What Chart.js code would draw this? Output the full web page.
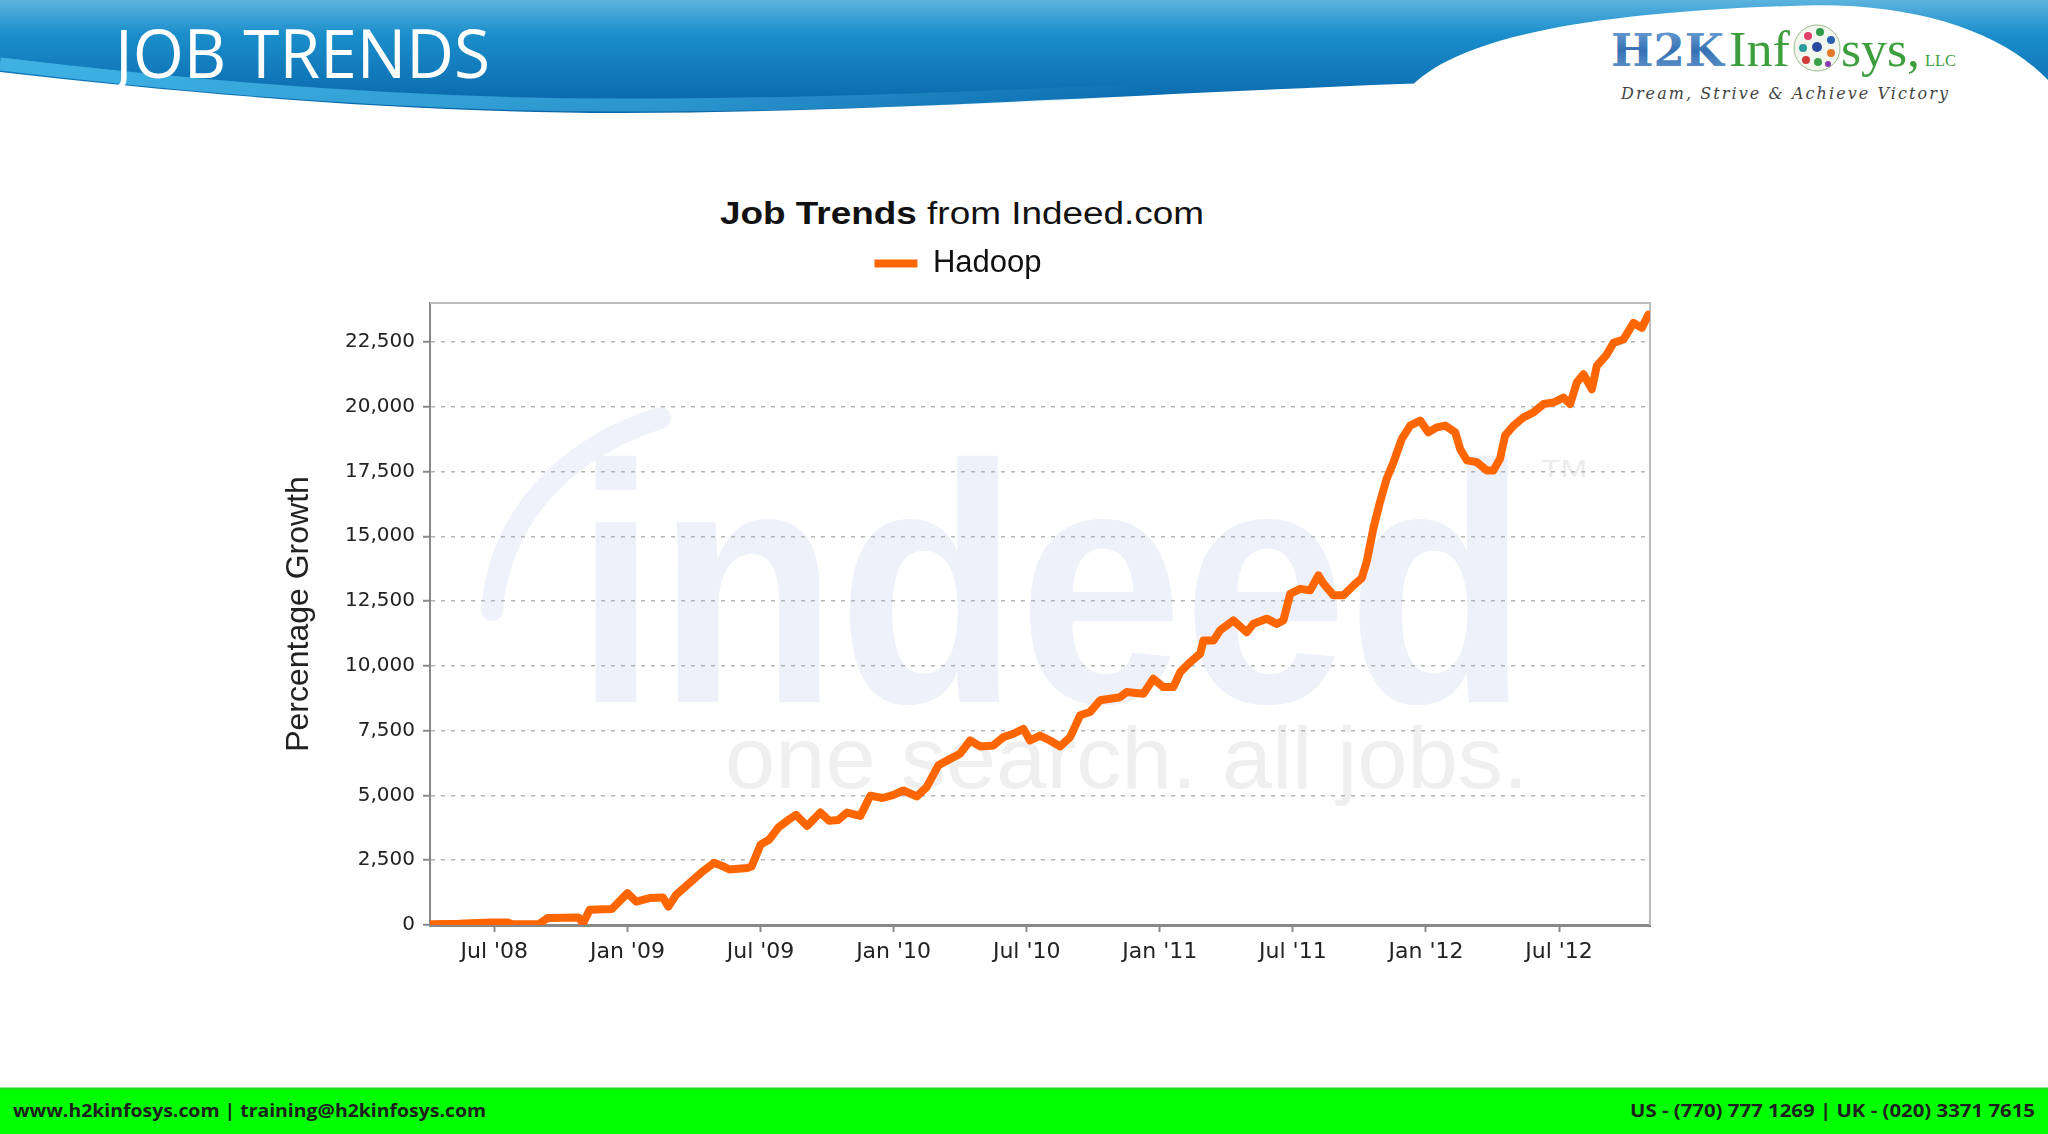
<!DOCTYPE html>
<html>
<head>
<meta charset="utf-8">
<script src="https://cdn.jsdelivr.net/npm/chart.js@4/dist/chart.umd.min.js"></script>
<style>
  html, body { margin: 0; padding: 0; background: #ffffff; }
  body { width: 2048px; height: 1134px; position: relative; overflow: hidden; }
  #bg { position: absolute; left: 0; top: 0; }
  #chartBox { position: absolute; left: 266px; top: 238px; width: 1394px; height: 762px; }
</style>
</head>
<body>
<svg id="bg" width="2048" height="1134" xmlns="http://www.w3.org/2000/svg">
  <defs>
    <linearGradient id="hdr" x1="0" y1="0" x2="0" y2="1">
      <stop offset="0" stop-color="#5cb3de"/>
      <stop offset="0.3" stop-color="#1b8ecb"/>
      <stop offset="1" stop-color="#0764a8"/>
    </linearGradient>
    <linearGradient id="stripe" x1="0" y1="0" x2="1" y2="0">
      <stop offset="0" stop-color="#3fb1e3" stop-opacity="1"/>
      <stop offset="0.6" stop-color="#3fb1e3" stop-opacity="0.6"/>
      <stop offset="1" stop-color="#3fb1e3" stop-opacity="0"/>
    </linearGradient>
    <linearGradient id="h2k" x1="0" y1="0" x2="0" y2="1">
      <stop offset="0" stop-color="#7aa9da"/>
      <stop offset="0.5" stop-color="#3471b4"/>
      <stop offset="1" stop-color="#6f9fd0"/>
    </linearGradient>
  </defs>
  <!-- header band -->
  <path d="M0,0 H2048 V92 C1900,82 1650,76 1400,84 C1100,96 850,113 620,113 C420,113 200,95 0,72 Z" fill="url(#hdr)"/>
  <path d="M0,64 C200,88 420,105 620,105 C820,105 1000,97 1150,90" fill="none" stroke="url(#stripe)" stroke-width="13"/>
  <path d="M1400,130 L1400,100 C1430,55 1520,15 1790,6 C1910,0 2000,30 2048,80 V130 Z" fill="#ffffff"/>
  <text x="115" y="78" font-family="Open Sans" font-weight="400" font-size="68" fill="#ffffff" textLength="375" lengthAdjust="spacingAndGlyphs">JOB TRENDS</text>

  <!-- logo -->
  <text x="1611" y="66" font-family="DejaVu Serif" font-weight="bold" font-size="45" fill="url(#h2k)" textLength="113" lengthAdjust="spacingAndGlyphs">H2K</text>
  <text x="1729" y="66" font-family="Liberation Serif" font-size="50" fill="#3d9e3d" textLength="61" lengthAdjust="spacingAndGlyphs">Inf</text>
  <circle cx="1817" cy="48" r="23" fill="#f3f6ef" stroke="#9bbd8e" stroke-width="1"/>
  <circle cx="1808" cy="36" r="4" fill="#e0406a"/>
  <circle cx="1820" cy="32" r="4" fill="#2f9a4a"/>
  <circle cx="1831" cy="40" r="4" fill="#2a62b0"/>
  <circle cx="1803" cy="48" r="4" fill="#2a9a9a"/>
  <circle cx="1817" cy="47" r="5" fill="#2a4aa0"/>
  <circle cx="1831" cy="53" r="4" fill="#e07a2a"/>
  <circle cx="1806" cy="60" r="4" fill="#d03a3a"/>
  <circle cx="1818" cy="62" r="4" fill="#3aa04a"/>
  <circle cx="1828" cy="64" r="3" fill="#8a3ab0"/>
  <text x="1841" y="66" font-family="Liberation Serif" font-size="50" fill="#3d9e3d" textLength="79" lengthAdjust="spacingAndGlyphs">sys,</text>
  <text x="1925" y="66" font-family="Liberation Serif" font-size="17" fill="#3d9e3d" textLength="31" lengthAdjust="spacingAndGlyphs">LLC</text>
  <text x="1621" y="99" font-family="DejaVu Serif" font-style="italic" font-size="16" fill="#444444" textLength="327" lengthAdjust="spacing">Dream, Strive &amp; Achieve Victory</text>

  <!-- chart title -->
  <text x="962" y="224" text-anchor="middle" font-family="Liberation Sans" font-size="31" fill="#111111" textLength="484" lengthAdjust="spacingAndGlyphs"><tspan font-weight="bold">Job Trends</tspan> from Indeed.com</text>

  <!-- watermark -->
  <path d="M492,610 C500,520 560,450 660,418" fill="none" stroke="#f0f2fb" stroke-width="22" stroke-linecap="round"/>
  <text x="575" y="702" font-family="Liberation Sans" font-weight="bold" font-size="340" fill="#eef1fa" textLength="953" lengthAdjust="spacingAndGlyphs">indeed</text>
  <text x="725" y="788" font-family="Liberation Sans" font-size="87" fill="#efefef" textLength="803" lengthAdjust="spacingAndGlyphs">one search. all jobs.</text>
  <text x="1541" y="477" font-family="Liberation Sans" font-size="24" fill="#ececec" textLength="46" lengthAdjust="spacingAndGlyphs">TM</text>

  <!-- footer -->
  <rect x="0" y="1088" width="2048" height="46" fill="#00ff00"/>
  <line x1="0" y1="1088.5" x2="2048" y2="1088.5" stroke="#22d522" stroke-width="2"/>
  <text x="13" y="1117" font-family="Open Sans" font-weight="bold" font-size="18" fill="#1e1e1e" textLength="473" lengthAdjust="spacingAndGlyphs">www.h2kinfosys.com | training@h2kinfosys.com</text>
  <text x="2035" y="1117" text-anchor="end" font-family="Open Sans" font-weight="bold" font-size="18" fill="#1e1e1e" textLength="405" lengthAdjust="spacingAndGlyphs">US - (770) 777 1269 | UK - (020) 3371 7615</text>
</svg>

<div id="chartBox"><canvas id="c"></canvas></div>

<script>
// Months since Jan 2008 (0 = Jan 1 2008)
const months = [3.1, 4.4, 5.8, 6.6, 6.8, 8.0, 8.4, 9.8, 10.0, 10.3, 11.3, 12.0, 12.4, 13.0, 13.6, 13.85, 14.2, 14.8, 15.4, 15.9, 16.3, 16.6, 17.4, 17.6, 18.0, 18.4, 18.8, 19.3, 19.6, 20.1, 20.7, 21.1, 21.5, 21.9, 22.5, 22.95, 23.5, 24.0, 24.44, 25.04, 25.49, 26.02, 26.55, 27.0, 27.45, 27.9, 28.5, 28.95, 29.4, 29.85, 30.15, 30.6, 31.05, 31.5, 31.96, 32.41, 32.86, 33.31, 33.76, 34.21, 34.51, 35.26, 35.71, 36.16, 36.61, 36.92, 37.37, 37.82, 37.97, 38.42, 38.72, 39.32, 39.92, 40.22, 40.82, 41.27, 41.57, 41.88, 42.33, 42.78, 43.15, 43.38, 43.83, 44.28, 44.73, 45.11, 45.33, 45.63, 45.93, 46.23, 46.54, 46.91, 47.29, 47.74, 48.11, 48.49, 48.87, 49.32, 49.54, 49.84, 50.29, 50.74, 51.04, 51.34, 51.57, 51.95, 52.4, 52.85, 53.3, 53.75, 54.2, 54.5, 54.8, 55.1, 55.48, 55.7, 56.15, 56.45, 56.9, 57.36, 57.73, 58.03];
const hadoop = [30, 50, 100, 100, 30, 30, 270, 290, 60, 590, 620, 1230, 900, 1040, 1060, 710, 1170, 1620, 2070, 2400, 2270, 2140, 2200, 2260, 3100, 3300, 3760, 4080, 4250, 3820, 4340, 4020, 4050, 4340, 4210, 4990, 4900, 5020, 5190, 4960, 5320, 6160, 6410, 6610, 7120, 6890, 6930, 7250, 7380, 7570, 7120, 7310, 7120, 6890, 7250, 8090, 8220, 8670, 8730, 8790, 8990, 8920, 9500, 9180, 9180, 9760, 10140, 10470, 10980, 10980, 11370, 11750, 11300, 11620, 11820, 11620, 11750, 12780, 12970, 12910, 13490, 13170, 12720, 12720, 13100, 13390, 14030, 15310, 16330, 17220, 17860, 18760, 19270, 19460, 19010, 19200, 19270, 19010, 18370, 17930, 17860, 17540, 17540, 17990, 18890, 19270, 19590, 19780, 20100, 20160, 20350, 20100, 20930, 21250, 20670, 21570, 22010, 22460, 22590, 23230, 23040, 23550];
const xTickMonths = [6, 12, 18, 24, 30, 36, 42, 48, 54];
const xTickLabels = ["Jul '08", "Jan '09", "Jul '09", "Jan '10", "Jul '10", "Jan '11", "Jul '11", "Jan '12", "Jul '12"];
const yTickValues = [0, 2500, 5000, 7500, 10000, 12500, 15000, 17500, 20000, 22500];
const seriesLabel = 'Hadoop';
const yAxisTitle = 'Percentage Growth';

const legendSpacer = {
  id: 'legendSpacer',
  beforeInit(chart) {
    const orig = chart.legend.fit;
    chart.legend.fit = function () {
      orig.bind(chart.legend)();
      this.height += 14;
    };
  }
};

const plotFrame = {
  id: 'plotFrame',
  beforeDatasetsDraw(chart) {
    const { ctx, chartArea: a } = chart;
    ctx.save();
    ctx.strokeStyle = '#bdbdbd';
    ctx.lineWidth = 2;
    ctx.beginPath();
    ctx.moveTo(a.left, a.top);
    ctx.lineTo(a.right, a.top);
    ctx.lineTo(a.right, a.bottom);
    ctx.stroke();
    ctx.restore();
  }
};

new Chart(document.getElementById('c'), {
  type: 'line',
  data: {
    datasets: [{
      label: seriesLabel,
      data: months.map((m, i) => ({ x: m, y: hadoop[i] })),
      borderColor: '#ff6600',
      backgroundColor: '#ff6600',
      borderWidth: 8,
      pointRadius: 0,
      tension: 0,
      borderJoinStyle: 'round',
      borderCapStyle: 'round'
    }]
  },
  options: {
    responsive: true,
    maintainAspectRatio: false,
    animation: false,
    devicePixelRatio: 1,
    layout: { padding: { left: 0, right: 10, top: 0, bottom: 0 } },
    plugins: {
      legend: {
        display: true,
        position: 'top',
        align: 'center',
        labels: {
          usePointStyle: true,
          pointStyle: 'line',
          pointStyleWidth: 43,
          color: '#111111',
          font: { family: 'Liberation Sans, Arial, sans-serif', size: 31 },
          padding: 10
        }
      },
      title: { display: false },
      tooltip: { enabled: false }
    },
    scales: {
      x: {
        type: 'linear',
        min: 3.1,
        max: 58.1,
        afterBuildTicks: s => { s.ticks = xTickMonths.map(v => ({ value: v })); },
        afterFit: s => { s.height = 75; },
        ticks: {
          callback: v => xTickLabels[xTickMonths.indexOf(v)],
          font: { family: 'DejaVu Sans, Verdana, sans-serif', size: 22 },
          color: '#222222',
          padding: 7,
          maxRotation: 0,
          autoSkip: false
        },
        grid: { drawOnChartArea: false, drawTicks: true, tickLength: 7, tickColor: '#888888', tickWidth: 2 },
        border: { color: '#888888', width: 3 }
      },
      y: {
        type: 'linear',
        min: 0,
        max: 24000,
        afterBuildTicks: s => { s.ticks = yTickValues.map(v => ({ value: v })); },
        afterFit: s => { s.width = 164; },
        ticks: {
          callback: v => v.toLocaleString('en-US'),
          font: { family: 'DejaVu Sans, Verdana, sans-serif', size: 20 },
          color: '#222222',
          padding: 8,
          autoSkip: false
        },
        grid: { color: '#b4b4b4', lineWidth: 1.5, tickLength: 7, tickColor: '#888888', tickWidth: 2 },
        border: { color: '#888888', width: 2, dash: [4, 6] },
        title: {
          display: true,
          text: yAxisTitle,
          color: '#222222',
          font: { family: 'Liberation Sans, Arial, sans-serif', size: 32 },
          padding: { top: 14, bottom: 0 }
        }
      }
    }
  },
  plugins: [legendSpacer, plotFrame]
});
</script>
</body>
</html>
